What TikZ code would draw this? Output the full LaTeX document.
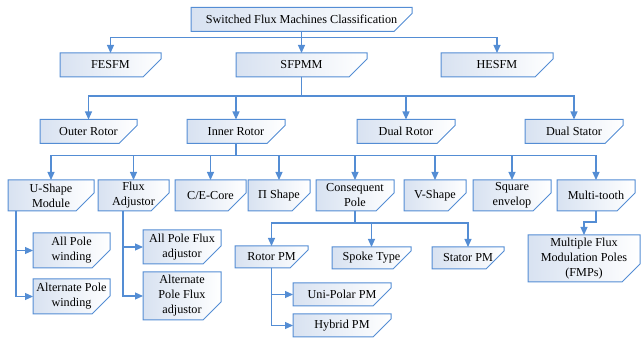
\documentclass[tikz,border=0pt]{standalone}
\usepackage{fontspec}
\setmainfont{Liberation Serif}
\usetikzlibrary{arrows.meta, backgrounds}

\definecolor{lineblue}{RGB}{84,141,212}
\definecolor{boxshade}{RGB}{216,226,241}

\begin{document}
\begin{tikzpicture}[x=1pt, y=-1pt,
            box/.style={rectangle, outer sep=0pt, inner sep=1pt, align=center, font=\fontsize{12.2}{15}\selectfont, minimum height=24pt},
            card/.style={draw=lineblue, line width=1pt, left color=boxshade, right color=white},
            arrow/.style={-{Triangle[width=7pt,length=8pt]}, line width=1.1pt, draw=lineblue}
        ]
            \useasboundingbox (0,0) rectangle (641,339);

% Root
            \node[box, minimum width=221pt] (root) at (301.5,19.5) {Switched Flux Machines Classification};

% Machine families
            \node[box, minimum width=101pt] (fesfm) at (110.5,65) {FESFM};
            \node[box, minimum width=131pt] (sfpmm) at (301.5,65) {SFPMM};
            \node[box, minimum width=112pt] (hesfm) at (497,65) {HESFM};

% Rotor arrangement
            \node[box, minimum width=97pt] (outer) at (88.5,131.5) {Outer Rotor};
            \node[box, minimum width=98pt] (inner) at (236,131.5) {Inner Rotor};
            \node[box, minimum width=98pt] (dualrotor) at (406,131.5) {Dual Rotor};
            \node[box, minimum width=98pt] (dualstator) at (574,131.5) {Dual Stator};

% Inner rotor topologies
            \node[box, minimum width=86pt, minimum height=31pt] (ushape) at (51,195.5) {U-Shape\\Module};
            \node[box, minimum width=71pt, minimum height=31pt] (fluxadj) at (133.5,195.5) {Flux\\Adjustor};
            \node[box, minimum width=71pt, minimum height=31pt] (cecore) at (210.5,195.5) {C/E-Core};
            \node[box, minimum width=62pt, minimum height=31pt] (pishape) at (279,195.5) {Π Shape};
            \node[box, minimum width=78pt, minimum height=31pt] (cpole) at (355,195.5) {Consequent\\Pole};
            \node[box, minimum width=62pt, minimum height=31pt] (vshape) at (435,195.5) {V-Shape};
            \node[box, minimum width=78pt, minimum height=31pt] (square) at (512,195.5) {Square\\envelop};
            \node[box, minimum width=78pt, minimum height=31pt] (multi) at (596,195.5) {Multi-tooth};

% Windings
            \node[box, minimum width=77pt, minimum height=35pt] (allpole) at (71.5,250.5) {All Pole\\winding};
            \node[box, minimum width=77pt, minimum height=35pt] (altpole) at (71.5,296.5) {Alternate Pole\\winding};

% Flux adjustors
            \node[box, minimum width=78pt, minimum height=34pt] (allflux) at (182,247) {All Pole Flux\\adjustor};
            \node[box, minimum width=78pt, minimum height=48pt] (altflux) at (182,296) {Alternate\\Pole Flux\\adjustor};

% Consequent pole variants
            \node[box, minimum width=73pt, minimum height=22pt] (rotorpm) at (271.5,257) {Rotor PM};
            \node[box, minimum width=79pt, minimum height=22pt] (spoke) at (371.5,258) {Spoke Type};
            \node[box, minimum width=72pt, minimum height=22pt] (statorpm) at (468,258) {Stator PM};
            \node[box, minimum width=98pt, minimum height=23pt] (unipolar) at (342,294.5) {Uni-Polar PM};
            \node[box, minimum width=98pt, minimum height=23pt] (hybrid) at (342,325.5) {Hybrid PM};

% Multi-tooth
            \node[box, minimum width=112pt, minimum height=47pt] (fmp) at (584,258.5) {Multiple Flux\\Modulation Poles\\(FMPs)};

% Box outlines with the cut corner
            \begin{scope}[on background layer]
                \foreach \n in {root,fesfm,sfpmm,hesfm,outer,inner,dualrotor,dualstator,ushape,fluxadj,cecore,pishape,cpole,vshape,square,multi,allpole,altpole,allflux,altflux,rotorpm,spoke,statorpm,unipolar,hybrid,fmp}
                    \path[card] (\n.north west) -- (\n.north east) -- ([yshift=18pt]\n.south east) -- ([xshift=-18pt]\n.south east) -- (\n.south west) -- cycle;
            \end{scope}

% Arrows
            \draw[arrow] (root.south) -- ++(0,6) -| (fesfm.north);
            \draw[arrow] (root.south) -- (sfpmm.north);
            \draw[arrow] (root.south) -- ++(0,6) -| (hesfm.north);

            \foreach \n in {outer,inner,dualrotor,dualstator}
                \draw[arrow] (sfpmm.south) -- ++(0,19) -| (\n.north);

            \foreach \n in {ushape,fluxadj,cecore,pishape,cpole,vshape,square,multi}
                \draw[arrow] (inner.south) -- ++(0,12) -| (\n.north);

            \draw[arrow] ([xshift=8pt]ushape.south west) |- (allpole.west);
            \draw[arrow] ([xshift=8pt]ushape.south west) |- (altpole.west);
            \draw[arrow] ([xshift=25pt]fluxadj.south west) |- (allflux.west);
            \draw[arrow] ([xshift=25pt]fluxadj.south west) |- (altflux.west);

            \foreach \n in {rotorpm,spoke,statorpm}
                \draw[arrow] (cpole.south) -- ++(0,12) -| (\n.north);
            \draw[arrow] (rotorpm.south) |- (unipolar.west);
            \draw[arrow] (rotorpm.south) |- (hybrid.west);

            \draw[arrow] (multi.south) -- ++(0,11) -| (fmp.north);

        \end{tikzpicture}
\end{document}
